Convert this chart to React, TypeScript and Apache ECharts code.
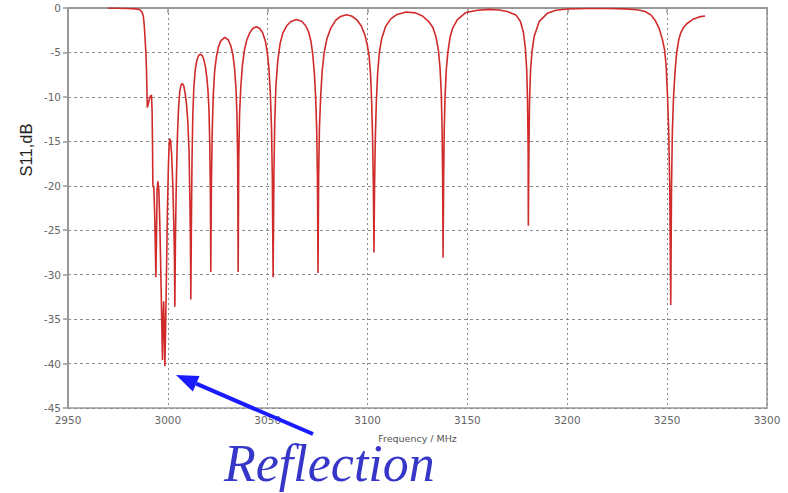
import React, { useEffect, useRef } from "react";
import * as echarts from "echarts";

// Frequency (MHz) and S11 (dB)
const freqMHz: number[] = [
  2970, 2975, 2980, 2984, 2986, 2987, 2987.7, 2988.2, 2988.6, 2989, 2989.3, 2989.5, 2989.7, 2990.2, 2990.8, 2991.3, 2991.8,
  2992.1, 2992.3, 2992.5, 2993, 2993.5, 2994, 2994.3, 2994.6, 2995, 2995.5, 2996, 2996.5, 2997, 2997.3, 2997.6, 2997.9,
  2998.2, 2998.5, 2998.8, 2999.3, 2999.8, 3000.3, 3000.7, 3001, 3001.4, 3001.9, 3002.5, 3003, 3003.3, 3003.5, 3003.8,
  3004.2, 3004.7, 3005.3, 3006, 3006.7, 3007.3, 3008, 3008.7, 3009.3, 3010, 3010.6, 3011, 3011.3, 3011.5, 3011.8, 3012.1,
  3012.5, 3013, 3013.7, 3014.5, 3015.4, 3016.3, 3017.2, 3018, 3018.8, 3019.5, 3020.1, 3020.6, 3021, 3021.3, 3021.5, 3021.8,
  3022.2, 3022.7, 3023.4, 3024.3, 3025.3, 3026.5, 3028.5, 3030.3, 3031.6, 3032.6, 3033.4, 3034.1, 3034.6, 3034.95, 3035.2,
  3035.5, 3035.9, 3036.5, 3037.3, 3038.3, 3039.5, 3041, 3042.5, 3044.3, 3046, 3047.5, 3048.8, 3049.8, 3050.6, 3051.3,
  3051.9, 3052.3, 3052.7, 3053.1, 3053.5, 3054.1, 3055, 3056.2, 3057.6, 3059.5, 3061.5, 3064.3, 3067, 3069, 3070.5, 3071.7,
  3072.6, 3073.4, 3074, 3074.5, 3074.9, 3075.2, 3075.5, 3075.9, 3076.5, 3077.3, 3078.3, 3079.6, 3081.5, 3084, 3086.5,
  3089.3, 3092, 3094.5, 3096.8, 3098.6, 3099.9, 3100.8, 3101.5, 3102, 3102.5, 3102.9, 3103.2, 3103.5, 3103.9, 3104.4,
  3105, 3105.8, 3107, 3109, 3111.5, 3114.5, 3119.3, 3124, 3127.5, 3130.5, 3132.7, 3134.3, 3135.5, 3136.3, 3136.9, 3137.3,
  3137.6, 3137.8, 3138.1, 3138.4, 3138.8, 3139.4, 3140.2, 3141.3, 3142.7, 3145, 3149.3, 3155, 3161, 3166, 3170, 3174.3,
  3176.5, 3178, 3179, 3179.7, 3180.1, 3180.4, 3180.5, 3180.8, 3181.1, 3181.6, 3182.3, 3183.4, 3186, 3190, 3194.3, 3200,
  3210, 3220, 3229, 3235, 3239, 3242, 3244, 3246, 3247.6, 3248.7, 3249.5, 3250.2, 3250.8, 3251.3, 3251.8, 3252.2, 3252.6,
  3253.2, 3254, 3254.8, 3255.8, 3256.8, 3258.2, 3259.7, 3262.7, 3266, 3269,
];

const s11dB: number[] = [
  0, -0.02, -0.05, -0.1, -0.2, -0.45, -0.9, -2, -3.5, -5, -7, -9, -11.2, -10.8, -10.2, -9.9, -9.8,
  -11.5, -15, -19.9, -20.3, -24, -30.3, -26, -20.5, -19.5, -20.5, -24.5, -30, -36, -39.6, -35, -33,
  -36, -40.3, -37, -30, -22.5, -17.5, -15.2, -14.7, -15, -16.5, -20, -24.5, -28, -33.6, -26,
  -20, -15, -11.5, -9.3, -8.6, -8.5, -8.8, -9.7, -10.7, -12.8, -16, -21, -26, -32.8, -24, -17,
  -12, -9, -7, -5.9, -5.35, -5.2, -5.35, -5.8, -6.6, -7.8, -9.3, -11.5, -15.5, -21, -29.7, -20,
  -14, -10, -7.2, -5.5, -4.4, -3.7, -3.3, -3.6, -4.3, -5.3, -6.8, -9, -12, -17, -29.7,
  -17, -12, -9, -6.5, -4.8, -3.6, -2.8, -2.3, -2.1, -2.3, -2.8, -3.7, -5, -6.8, -9.5,
  -13.5, -19, -30.3, -19, -13, -8.8, -6, -4, -2.8, -2, -1.55, -1.3, -1.5, -2, -2.7, -3.8,
  -5.3, -7.5, -10, -13.5, -19, -29.8, -19, -13.5, -10, -7, -5, -3.5, -2.3, -1.4, -0.95,
  -0.75, -0.9, -1.3, -2, -3, -4.2, -5.5, -7.5, -10.2, -14.5, -20, -27.5, -20, -14.5, -10.5,
  -7.5, -5.2, -3.5, -2.1, -1.25, -0.75, -0.45, -0.55, -0.9, -1.5, -2.2, -3.3, -4.8, -6.8, -9.5, -13.5,
  -19, -28.1, -19, -13.5, -10, -7, -5, -3.3, -2.2, -1.3, -0.5, -0.25, -0.15, -0.22, -0.4, -0.8,
  -1.5, -2.7, -4.5, -7, -10.5, -16, -24.5, -16, -10.5, -7, -5, -3.2, -1.5, -0.6, -0.25, -0.12,
  -0.05, -0.05, -0.1, -0.2, -0.4, -0.8, -1.4, -2.3, -3.5, -4.7, -6.5, -10, -14, -20, -33.4, -20, -14,
  -10, -7, -5, -3.6, -2.8, -2.2, -1.8, -1.3, -1.0, -0.9,
];

const xTicks = { min: 2950, max: 3300, step: 50 };
const yTicks = { min: -45, max: 0, step: 5 };
const xName = "Frequency / MHz";
const yName = "S11,dB";
const annotation = "Reflection";

export default function App() {
  const ref = useRef<HTMLDivElement>(null);

  useEffect(() => {
    if (!ref.current) return;
    const chart = echarts.init(ref.current, undefined, { renderer: "svg" });
    const data = freqMHz.map((f, i) => [f, s11dB[i]]);

    // arrow geometry (annotation, pixel space)
    const tip = [176, 375];
    const tail = [313, 434];
    const dx = tail[0] - tip[0];
    const dy = tail[1] - tip[1];
    const len = Math.hypot(dx, dy);
    const ux = dx / len, uy = dy / len;
    const px = -uy, py = ux;
    const headLen = 22, headHalf = 8.5;
    const base = [tip[0] + ux * headLen, tip[1] + uy * headLen];

    chart.setOption({
      animation: false,
      backgroundColor: "#ffffff",
      grid: {
        left: 68,
        right: 21,
        top: 8,
        bottom: 85,
        show: true,
        borderColor: "#9a9a9a",
        borderWidth: 1.5,
      },
      xAxis: {
        type: "value",
        min: xTicks.min,
        max: xTicks.max,
        interval: xTicks.step,
        name: xName,
        nameLocation: "middle",
        nameGap: 25,
        nameTextStyle: { color: "#555", fontSize: 9.5, fontFamily: "DejaVu Sans", lineHeight: 10 },
        axisLine: { show: true, lineStyle: { color: "#999", width: 2 } },
        axisTick: { show: true, length: 5, lineStyle: { color: "#999", width: 1.5 } },
        axisLabel: {
          color: "#666",
          fontSize: 10.5,
          fontFamily: "DejaVu Sans",
          margin: 6,
          formatter: (v: number) => String(v),
        },
        splitLine: { show: true, lineStyle: { color: "#8a8a8a", type: [2, 3], width: 1 } },
      },
      yAxis: {
        type: "value",
        min: yTicks.min,
        max: yTicks.max,
        interval: yTicks.step,
        axisLine: { show: true, lineStyle: { color: "#999", width: 2 } },
        axisTick: { show: true, length: 5, lineStyle: { color: "#999", width: 1.5 } },
        axisLabel: {
          color: "#666",
          fontSize: 10.5,
          fontFamily: "DejaVu Sans",
          margin: 7,
          formatter: (v: number) => String(v),
        },
        splitLine: { show: true, lineStyle: { color: "#8a8a8a", type: [3, 3], width: 1 } },
      },
      series: [
        {
          type: "line",
          data,
          showSymbol: false,
          smooth: false,
          lineStyle: { color: "#d02a2a", width: 1.6 },
          z: 5,
        },
      ],
      graphic: [
        {
          type: "text",
          x: 26,
          y: 150,
          rotation: Math.PI / 2,
          style: {
            text: yName,
            fill: "#222",
            font: "16.5px 'Liberation Sans', Arial, sans-serif",
            align: "center",
            verticalAlign: "middle",
          },
        },
        {
          type: "line",
          shape: { x1: base[0], y1: base[1], x2: tail[0], y2: tail[1] },
          style: { stroke: "#1a1aff", lineWidth: 4 },
          z: 10,
        },
        {
          type: "polygon",
          shape: {
            points: [
              tip,
              [base[0] + px * headHalf, base[1] + py * headHalf],
              [base[0] - px * headHalf, base[1] - py * headHalf],
            ],
          },
          style: { fill: "#1a1aff" },
          z: 10,
        },
        {
          type: "text",
          x: 224,
          y: 463,
          style: {
            text: annotation,
            fill: "#3636c8",
            font: "italic 52px 'Liberation Serif', 'Times New Roman', serif",
            lineHeight: 34,
            align: "left",
            verticalAlign: "middle",
          },
          z: 10,
        },
      ],
    });

    return () => chart.dispose();
  }, []);

  return <div ref={ref} style={{ width: 788, height: 493, position: "absolute", left: 0, top: 0 }} />;
}
